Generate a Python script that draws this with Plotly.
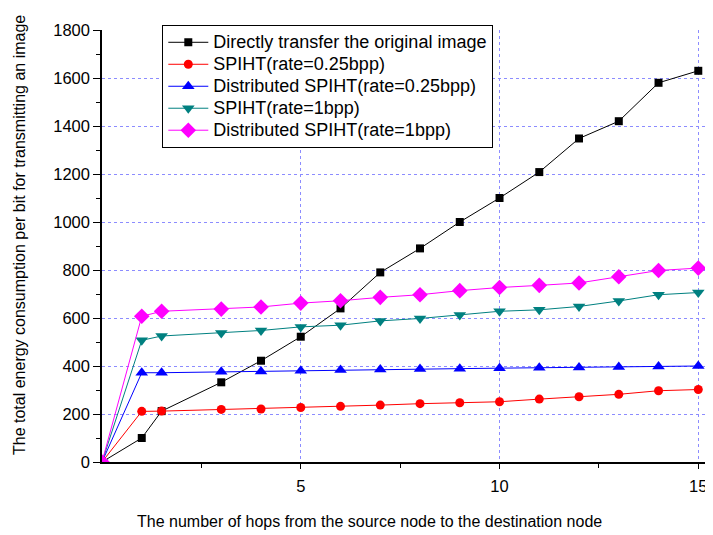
import plotly.graph_objects as go

hops = [0, 1, 1.5, 3, 4, 5, 6, 7, 8, 9, 10, 11, 12, 13, 14, 15]
direct = [0, 100, 212, 332, 422, 522, 640, 790, 890, 1000, 1100, 1208, 1348, 1420, 1580, 1630]
spiht_025 = [0, 211, 212, 219, 221, 227, 232, 237, 243, 247, 251, 262, 272, 282, 297, 302]
dspiht_025 = [0, 372, 372, 376, 377, 380, 383, 385, 387, 389, 391, 393, 394, 396, 398, 400]
spiht_1 = [0, 507, 525, 537, 548, 563, 570, 588, 598, 613, 628, 634, 648, 671, 697, 706]
dspiht_1 = [0, 607, 628, 637, 646, 662, 672, 686, 697, 714, 727, 736, 746, 772, 798, 808]

names = [
    "Directly transfer the original image",
    "SPIHT(rate=0.25bpp)",
    "Distributed SPIHT(rate=0.25bpp)",
    "SPIHT(rate=1bpp)",
    "Distributed SPIHT(rate=1bpp)",
]
series = [direct, spiht_025, dspiht_025, spiht_1, dspiht_1]
colors = ["#000000", "#ff0000", "#0000ff", "#008080", "#ff00ff"]
symbols = ["square", "circle", "triangle-up", "triangle-down", "diamond"]
sizes = [8, 9, 11, 11, 12]

yticks = [0, 200, 400, 600, 800, 1000, 1200, 1400, 1600, 1800]
xticks = [5, 10, 15]

FONT = "Arial, Liberation Sans, sans-serif"

# page body has an 8px margin, so the figure is drawn 8px smaller than the window
W, H = 705, 527
L, T, R = 94, 22, 0
PW, PH = 611, 432
B = H - T - PH

fig = go.Figure()
for n, s, c, sym, sz in zip(names, series, colors, symbols, sizes):
    fig.add_trace(go.Scatter(
        x=hops, y=s, name="<span style='font-size:18px'>" + n + "</span>",
        mode="lines+markers",
        line=dict(color=c, width=1),
        marker=dict(symbol=sym, size=sz, color=c, line=dict(width=0)),
    ))

fig.update_layout(
    width=W, height=H,
    margin=dict(l=L, r=R, t=T, b=B, autoexpand=False),
    paper_bgcolor="white", plot_bgcolor="white",
    font=dict(family=FONT, color="black", size=16),
    showlegend=True,
    legend=dict(
        x=(162 - 102) / PW, y=(462 - 25) / PH, xanchor="left", yanchor="top",
        bgcolor="white", bordercolor="black", borderwidth=1.3,
        font=dict(family=FONT, size=14.6, color="black"),
        itemwidth=40, tracegroupgap=0,
    ),
    xaxis=dict(
        range=[0, 15.37], tickvals=xticks, ticktext=[str(v) for v in xticks],
        showline=True, linecolor="black", linewidth=1.5,
        ticks="outside", ticklen=5, tickcolor="black", ticklabelstandoff=3,
        minor=dict(tickvals=[2.5, 7.5, 12.5], ticks="outside", ticklen=4, tickcolor="black", showgrid=False),
        showgrid=True, gridcolor="#8c8cff", griddash="dot", gridwidth=1,
        zeroline=False, tickfont=dict(size=16.5),
    ),
    yaxis=dict(
        range=[0, 1800], tickvals=yticks, ticktext=[str(v) for v in yticks],
        showline=True, linecolor="black", linewidth=1.5,
        ticks="outside", ticklen=7, tickcolor="black",
        minor=dict(dtick=100, ticks="outside", ticklen=4, tickcolor="black", showgrid=False),
        showgrid=True, gridcolor="#8c8cff", griddash="dot", gridwidth=1,
        zeroline=False, tickfont=dict(size=16.5),
    ),
    annotations=[
        dict(text="The number of hops from the source node to the destination node",
             xref="paper", yref="paper", x=(369 - 102) / PW, y=-(521 - 462) / PH,
             xanchor="center", yanchor="middle", showarrow=False,
             font=dict(family=FONT, size=16, color="black")),
        dict(text="The total energy consumption per bit for transmitting an image",
             xref="paper", yref="paper", x=-(102 - 19) / PW, y=(462 - 235) / PH,
             xanchor="center", yanchor="middle", showarrow=False, textangle=-90,
             font=dict(family=FONT, size=16, color="black")),
    ],
)

fig.write_html("out.html")
